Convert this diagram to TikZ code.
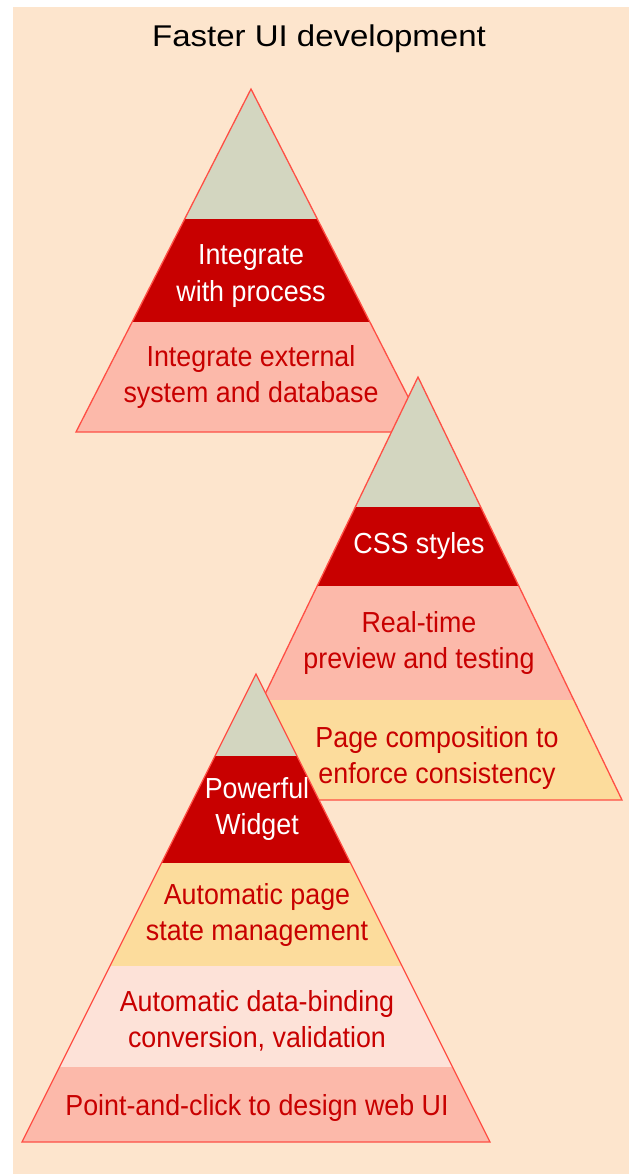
\documentclass[tikz,border=0pt]{standalone}
\usepackage{fontspec}
\setmainfont{Liberation Sans}
\newfontfamily\titlefont[FakeStretch=1.1]{Liberation Sans}
\newfontfamily\labfont[FakeStretch=0.925]{Liberation Sans}
\definecolor{bgpeach}{HTML}{FDE5CD}
\definecolor{topgray}{HTML}{D3D6C0}
\definecolor{darkred}{HTML}{C80000}
\definecolor{bandpink}{HTML}{FCB9AA}
\definecolor{bandyellow}{HTML}{FCDC9C}
\definecolor{bandlight}{HTML}{FDE2D8}
\definecolor{edgered}{HTML}{FF4F45}
\definecolor{txtred}{HTML}{C80000}
\tikzset{
  edge/.style={draw=edgered, line width=1.3pt, line join=miter},
  lab/.style={font=\labfont\fontsize{29}{36.5}\selectfont, align=center, inner sep=0pt, text=txtred},
  labw/.style={lab, text=white},
  ttl/.style={font=\titlefont\fontsize{30}{36}\selectfont, inner sep=0pt, text=black}
}
\begin{document}
\begin{tikzpicture}[x=1pt,y=-1pt]
\useasboundingbox (0,0) rectangle (629,1174);
\fill[white] (0,0) rectangle (629,1174);
\fill[bgpeach] (13,7) rectangle (629,1174);

\node[ttl] (title) at (319,39) {Faster UI development};

% Pyramid 1
\begin{scope}
\clip (251,89) -- (76,432) -- (426,432) -- cycle;
\fill[topgray] (0,80) rectangle (629,219);
\fill[darkred] (0,219) rectangle (629,322);
\fill[bandpink] (0,322) rectangle (629,440);
\end{scope}
\draw[edge] (251,89) -- (76,432) -- (426,432) -- cycle;
\node[labw] (p1a) at (251,276) {Integrate\\with process};
\node[lab] (p1b) at (251,377) {Integrate external\\system and database};

% Pyramid 2
\begin{scope}
\clip (418,377) -- (214,800) -- (622,800) -- cycle;
\fill[topgray] (0,370) rectangle (629,507);
\fill[darkred] (0,507) rectangle (629,586);
\fill[bandpink] (0,586) rectangle (629,700);
\fill[bandyellow] (0,700) rectangle (629,810);
\end{scope}
\draw[edge] (418,377) -- (214,800) -- (622,800) -- cycle;
\node[labw] (p2a) at (419,546) {CSS styles};
\node[lab] (p2b) at (419,643) {Real-time\\preview and testing};
\node[lab] (p2c) at (437,758) {Page composition to\\enforce consistency};

% Pyramid 3
\begin{scope}
\clip (256,674) -- (22,1142) -- (490,1142) -- cycle;
\fill[topgray] (0,660) rectangle (629,756);
\fill[darkred] (0,756) rectangle (629,863);
\fill[bandyellow] (0,863) rectangle (629,966);
\fill[bandlight] (0,966) rectangle (629,1067);
\fill[bandpink] (0,1067) rectangle (629,1150);
\end{scope}
\draw[edge] (256,674) -- (22,1142) -- (490,1142) -- cycle;
\node[labw] (p3a) at (257,809) {Powerful\\Widget};
\node[lab] (p3b) at (257,915) {Automatic page\\state management};
\node[lab] (p3c) at (257,1021) {Automatic data-binding\\conversion, validation};
\node[lab] (p3d) at (257,1108) {Point-and-click to design web UI};
\end{tikzpicture}
\end{document}
